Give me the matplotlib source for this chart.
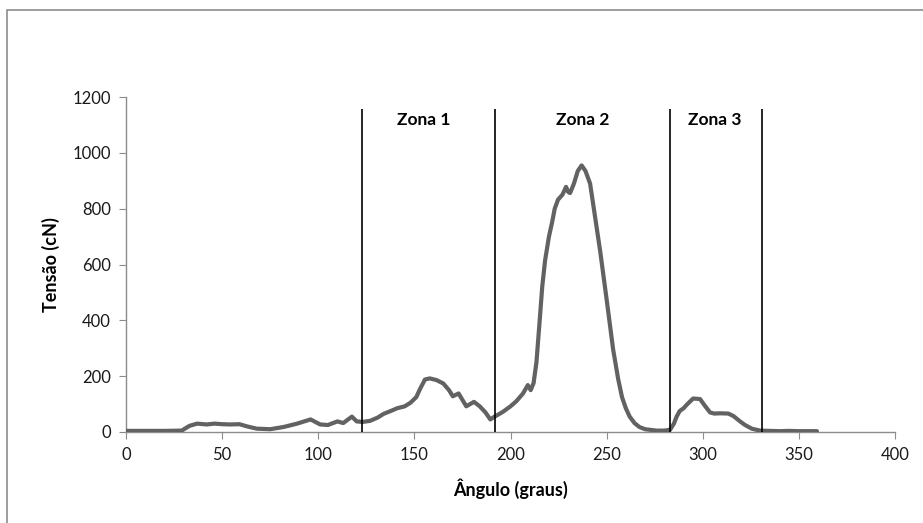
import matplotlib
matplotlib.use("Agg")
import matplotlib.pyplot as plt
from matplotlib.patches import Rectangle

plt.rcParams['font.family'] = ['Lato', 'DejaVu Sans']

angle = [0, 10, 20, 29, 33, 37, 42, 46, 50, 54, 59, 63, 68, 75, 82, 89, 96, 101, 105,
         110, 113, 117.5, 120, 123, 127, 131, 134, 138, 141, 145, 148, 151, 153, 155.5,
         158, 161.5, 165, 168, 170, 173, 175, 177, 181, 184, 187, 189.5, 191, 193, 196,
         200, 203, 206.5, 209, 210.5, 212, 213.5, 215.3, 216.5, 218, 220, 221.6, 223,
         224.7, 227, 228.9, 230, 231, 233, 235, 237, 239, 241.4, 244, 246.6, 250, 253.4,
         256, 258, 260, 262, 264.5, 267, 270, 276, 280, 283, 285, 286.4, 288, 290, 292,
         295, 298.6, 301, 303.8, 306, 309, 313.3, 316, 319.4, 322, 325.5, 329.8, 335,
         340, 345, 350, 355, 359.4]
tension = [4, 4, 4, 5, 22, 30, 27, 30, 28, 27, 28, 20, 12, 10, 18, 30, 45, 27, 25,
           38, 32, 55, 38, 36, 40, 52, 65, 76, 85, 92, 105, 125, 155, 188,
           192, 186, 174, 150, 128, 138, 115, 92, 108, 92, 70, 45, 52, 60, 72,
           92, 110, 138, 168, 150, 175, 250, 410, 520, 615, 700, 750, 800,
           832, 850, 878, 860, 856, 890, 935, 955, 935, 890, 770, 650, 475, 295,
           190, 125, 85, 55, 32, 18, 10, 5, 5, 8, 30, 55, 75, 85, 100,
           120, 118, 95, 70, 66, 67, 66, 57, 38, 25, 12, 5, 4,
           3, 4, 3, 3, 3]

zone_bounds = [122.8, 192, 283, 330.8]
zone_names = ["Zona 1", "Zona 2", "Zona 3"]
zone_label_x = [155, 237.5, 306]

x_ticks = [0, 50, 100, 150, 200, 250, 300, 350, 400]
y_ticks = [0, 200, 400, 600, 800, 1000, 1200]

W, H = 923, 523
fig = plt.figure(figsize=(W / 100, H / 100), dpi=100)
fig.patches.append(Rectangle((7 / W, -0.05), 1.1, 1 - 10 / H + 0.05,
                             transform=fig.transFigure, fill=False,
                             edgecolor='#8c8c8c', linewidth=1.2))

ax = fig.add_axes([126 / W, 1 - 432 / H, (895 - 126) / W, (432 - 97) / H])
ax.plot(angle, tension, color='#626262', linewidth=3.0, solid_joinstyle='round',
        solid_capstyle='round', zorder=3)
ax.vlines(zone_bounds, 0, 1158, colors='black', linewidth=1.2, zorder=4)
for name, xl in zip(zone_names, zone_label_x):
    ax.text(xl, 1118, name, ha='center', va='center', fontsize=12.5,
            fontweight='bold', color='black')

ax.set_xlim(0, 400)
ax.set_ylim(0, 1200)
ax.set_xticks(x_ticks)
ax.set_yticks(y_ticks)
for s in ['top', 'right']:
    ax.spines[s].set_visible(False)
for s in ['left', 'bottom']:
    ax.spines[s].set_color('#8c8c8c')
    ax.spines[s].set_linewidth(1.0)
ax.tick_params(axis='both', direction='out', length=5, color='#8c8c8c',
               labelsize=12, labelcolor='#1a1a1a', pad=6)
ax.set_xlabel('Ângulo (graus)', fontsize=13, fontweight='bold', labelpad=11)
ax.set_ylabel('Tensão (cN)', fontsize=13, fontweight='bold', labelpad=9)

fig.savefig('out.png', dpi=100)
